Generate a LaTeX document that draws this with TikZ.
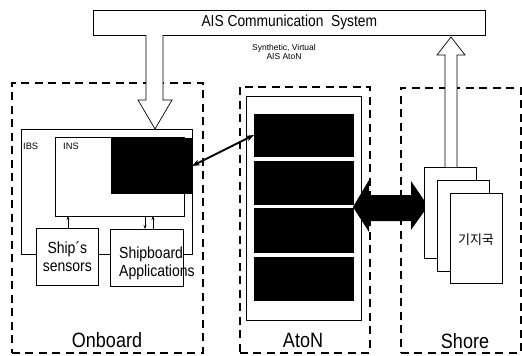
\documentclass[tikz,border=0pt]{standalone}
\usepackage{graphicx}
\usepackage{fontspec}
\setmainfont{Liberation Sans}
\newfontfamily\krfont{Noto Sans CJK KR}
\usetikzlibrary{arrows.meta}
\newcommand\tallt[1]{\scalebox{1}[1.15]{#1}}
\begin{document}
\begin{tikzpicture}[x=1pt,y=-1pt,
  box/.style={draw, line width=0.7pt, fill=white, inner sep=0pt, anchor=north west},
  dbox/.style={draw, line width=1.8pt, dash pattern=on 8pt off 5.5pt, inner sep=0pt, anchor=north west},
  blk/.style={fill=black, inner sep=0pt, anchor=north west},
  lbl/.style={inner sep=0pt, font=\fontsize{18}{20}\selectfont},
  hollow/.style={draw, line width=0.7pt, fill=white, line join=miter},
  small/.style={-{Stealth[length=4pt,width=3pt]}, line width=0.7pt},
  thick2/.style={{Stealth[length=8pt,width=6pt]}-{Stealth[length=8pt,width=6pt]}, line width=2pt}
]
\useasboundingbox (0,0) rectangle (522,356);

% dashed regions
\node[dbox, minimum width=191pt, minimum height=270pt] (onb) at (11,82) {};
\node[dbox, minimum width=130pt, minimum height=266pt] (atonr) at (239,86) {};
\node[dbox, minimum width=120pt, minimum height=265pt] (shr) at (400,87) {};
\node[lbl] (lonb) at (107,340) {\tallt{Onboard}};
\node[lbl] (laton) at (303,340) {\tallt{AtoN}};
\node[lbl] (lshr) at (465,341) {\tallt{Shore}};

% AIS communication system
\node[box, minimum width=392pt, minimum height=25pt] (ais) at (93,10) {};
\node[inner sep=0pt, font=\fontsize{13.8}{15}\selectfont] (aist) at (ais.center) {\tallt{AIS Communication\ \ System}};
\node[inner sep=0pt, align=center, font=\fontsize{8.5}{9}\selectfont] (syn) at (284,52) {Synthetic, Virtual\\AIS AtoN};

% down hollow arrow (AIS -> IBS)
\draw[hollow] (146,35) -- (146,100) -- (138,100) -- (155,129) -- (172,100) -- (163,100) -- (163,35);

% IBS
\node[box, minimum width=171pt, minimum height=125pt] (ibs) at (21,129) {};
\node[inner sep=0pt, anchor=north west, font=\fontsize{9.3}{10}\selectfont] (ibst) at (23,143) {IBS};
\node[box, minimum width=129pt, minimum height=79pt] (ins) at (55,137) {};
\node[inner sep=0pt, anchor=north west, font=\fontsize{9.3}{10}\selectfont] (inst) at (63,143) {INS};
\node[blk, minimum width=81pt, minimum height=56pt] (insb) at (111,138) {};

\node[box, minimum width=62pt, minimum height=57pt] (sens) at (36,228) {};
\node[inner sep=0pt, align=center, font=\fontsize{14}{18}\selectfont] (senst) at (sens.center) {\tallt{Ship´s}\\\tallt{sensors}};
\node[box, minimum width=73pt, minimum height=57pt] (app) at (110,229) {};
\node[inner sep=0pt, align=left, anchor=west, font=\fontsize{14}{18}\selectfont] (appt) at (119,263) {\tallt{Shipboard}\\\tallt{Applications}};

\coordinate (s1) at (68,228); \coordinate (s2) at (68,216);
\draw[small] (s1) -- (s2);
\coordinate (d1) at (145,216); \coordinate (d2) at (145,229);
\draw[small] (d1) -- (d2);
\coordinate (u1) at (153,229); \coordinate (u2) at (153,216);
\draw[small] (u1) -- (u2);

% AtoN
\node[box, minimum width=115pt, minimum height=224pt] (atonin) at (246,96) {};
\node[blk, minimum width=100pt, minimum height=43pt] (b1) at (254,114) {};
\node[blk, minimum width=100pt, minimum height=44pt] (b2) at (254,161) {};
\node[blk, minimum width=100pt, minimum height=45pt] (b3) at (254,208) {};
\node[blk, minimum width=100pt, minimum height=44pt] (b4) at (254,257) {};

\coordinate (da) at (192,166);
\coordinate (db) at (254,135);
\draw[thick2] (da) -- (db);

% big double arrow
\fill (353,207) -- (369,180) -- (369,195) -- (411,195) -- (411,181) -- (428,206) -- (411,230) -- (411,221) -- (369,221) -- (369,232) -- cycle;

% Shore cards
\node[box, minimum width=52pt, minimum height=91pt] (c1) at (424,167) {};
\node[box, minimum width=52pt, minimum height=91pt] (c2) at (437,180) {};
\node[box, minimum width=52pt, minimum height=90pt] (c3) at (450,193) {};
\node[inner sep=0pt, font=\krfont\fontsize{13}{14}\selectfont] (kt) at (476,240) {기지국};

% up hollow arrow (Shore -> AIS)
\draw[hollow] (445,167) -- (445,55) -- (437,55) -- (451,37) -- (465,55) -- (457,55) -- (457,167);
\end{tikzpicture}
\end{document}
